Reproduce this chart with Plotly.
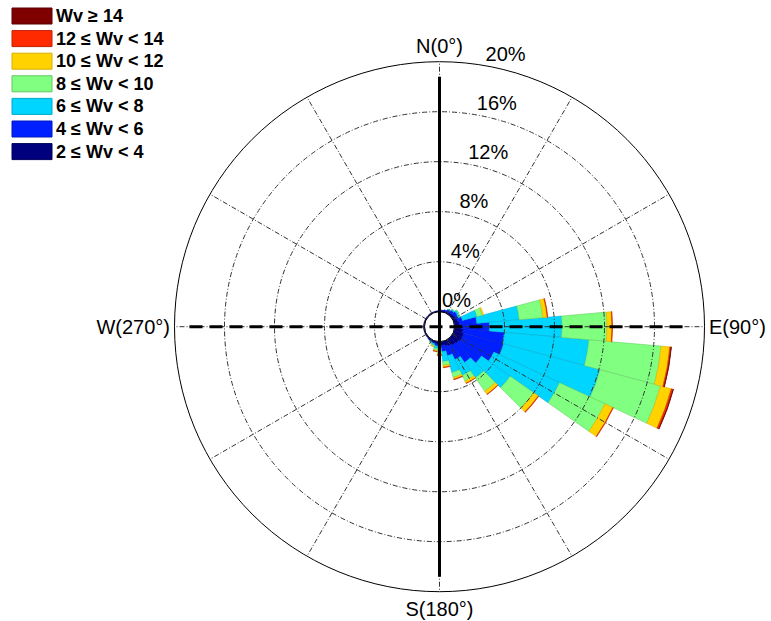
import plotly.graph_objects as go

# ---------------- data ----------------
directions = list(range(0, 360, 10))  # degrees, clockwise from north

bin_labels = ["2 ≤ Wv < 4", "4 ≤ Wv < 6", "6 ≤ Wv < 8", "8 ≤ Wv < 10",
              "10 ≤ Wv < 12", "12 ≤ Wv < 14", "Wv ≥ 14"]
bin_colors = ["#00007F", "#0020FF", "#00D5FF", "#80FF80",
              "#FFD200", "#FF2A00", "#7F0000"]
bin_edges = ["#00005A", "#0018C0", "#00A8CC", "#60C860",
             "#D8B000", "#C02000", "#5A0000"]

# frequency (%) of each speed bin per direction (stacked increments)
wv_2_4 = [0.08, 0.10, 0.12, 0.15, 0.18, 0.22, 0.25, 0.30, 0.40, 0.50, 0.70, 0.80,
          0.80, 0.70, 0.60, 0.50, 0.40, 0.30, 0.25, 0.20, 0.15, 0.12, 0.10, 0.08,
          0.08, 0.08, 0.08, 0.08, 0.08, 0.08, 0.08, 0.08, 0.08, 0.08, 0.08, 0.08]
wv_4_6 = [0.00, 0.04, 0.08, 0.15, 0.23, 0.30, 0.22, 0.40, 1.40, 2.30, 3.30, 3.30,
          2.80, 2.20, 1.70, 1.20, 0.80, 0.50, 0.25, 0.15, 0.07, 0.04, 0.03, 0.00,
          0.00, 0.00, 0.00, 0.00, 0.00, 0.00, 0.00, 0.00, 0.00, 0.00, 0.00, 0.00]
wv_6_8 = [0.00, 0.00, 0.00, 0.05, 0.10, 0.15, 0.12, 1.20, 3.40, 5.80, 6.80, 8.00,
          5.80, 2.80, 1.50, 1.40, 1.40, 0.80, 0.30, 0.20, 0.10, 0.05, 0.00, 0.00,
          0.00, 0.00, 0.00, 0.00, 0.00, 0.00, 0.00, 0.00, 0.00, 0.00, 0.00, 0.00]
wv_8_10 = [0.00, 0.00, 0.00, 0.00, 0.03, 0.05, 0.06, 0.45, 1.90, 3.60, 5.80, 5.00,
           4.00, 2.30, 1.30, 0.50, 0.40, 0.30, 0.15, 0.15, 0.10, 0.05, 0.00, 0.00,
           0.00, 0.00, 0.00, 0.00, 0.00, 0.00, 0.00, 0.00, 0.00, 0.00, 0.00, 0.00]
wv_10_12 = [0.00, 0.00, 0.00, 0.00, 0.00, 0.00, 0.00, 0.10, 0.35, 0.40, 0.70, 0.90,
            0.70, 0.45, 0.30, 0.20, 0.15, 0.15, 0.10, 0.08, 0.05, 0.00, 0.00, 0.00,
            0.00, 0.00, 0.00, 0.00, 0.00, 0.00, 0.00, 0.00, 0.00, 0.00, 0.00, 0.00]
wv_12_14 = [0.00, 0.00, 0.00, 0.00, 0.00, 0.00, 0.00, 0.00, 0.05, 0.05, 0.10, 0.15,
            0.05, 0.05, 0.03, 0.02, 0.05, 0.05, 0.05, 0.02, 0.00, 0.00, 0.00, 0.00,
            0.00, 0.00, 0.00, 0.00, 0.00, 0.00, 0.00, 0.00, 0.00, 0.00, 0.00, 0.00]
wv_14_up = [0.00, 0.00, 0.00, 0.00, 0.00, 0.00, 0.00, 0.00, 0.00, 0.00, 0.03, 0.03,
            0.00, 0.00, 0.00, 0.00, 0.00, 0.00, 0.00, 0.00, 0.00, 0.00, 0.00, 0.00,
            0.00, 0.00, 0.00, 0.00, 0.00, 0.00, 0.00, 0.00, 0.00, 0.00, 0.00, 0.00]
bin_values = [wv_2_4, wv_4_6, wv_6_8, wv_8_10, wv_10_12, wv_12_14, wv_14_up]

radial_ticks = [0, 4, 8, 12, 16, 20]
radial_tick_labels = ["0%", "4%", "8%", "12%", "16%", "20%"]
angle_ticks = list(range(0, 360, 30))
angle_tick_labels = ["N(0°)", "", "", "E(90°)", "", "", "S(180°)", "", "", "W(270°)", "", ""]
r_max = 20
axis_cross_r = 18.8  # extent of the thick N-S / W-E axis lines

# ---------------- figure ----------------
FONT = "Arial, 'Liberation Sans', sans-serif"
W, H = 771, 621
fig = go.Figure()

for vals, lab, col, edge in zip(bin_values, bin_labels, bin_colors, bin_edges):
    fig.add_trace(go.Barpolar(
        r=vals, theta=directions, width=[10] * len(directions), name=lab,
        subplot="polar",
        marker=dict(color=col, line=dict(color=edge, width=0.5)),
        showlegend=False))

# radial percentage labels (in the grid subplot)
fig.add_trace(go.Scatterpolar(
    r=radial_ticks, theta=[10] * len(radial_ticks), text=radial_tick_labels,
    mode="text", textposition="top right", subplot="polar2", cliponaxis=False,
    textfont=dict(family=FONT, size=20, color="black"), showlegend=False,
    hoverinfo="skip"))

# thick axis cross (no-hole subplot so it passes through the centre)
fig.add_trace(go.Scatterpolar(
    r=[axis_cross_r, axis_cross_r], theta=[0, 180], mode="lines", subplot="polar3",
    line=dict(color="black", width=3), showlegend=False, hoverinfo="skip"))
fig.add_trace(go.Scatterpolar(
    r=[axis_cross_r, axis_cross_r], theta=[270, 90], mode="lines", subplot="polar3",
    line=dict(color="black", width=3, dash="13px,7px"), showlegend=False,
    hoverinfo="skip"))

cx, cy, R = 439.5, 326.7, 265.0
dom_x = [(cx - R) / W, (cx + R) / W]
dom_y = [(H - cy - R) / H, (H - cy + R) / H]
hole_px = 15.0
hole = hole_px / R
grid_col = "#333333"
grid_dash = "5px,2px,1px,2px"

fig.update_layout(
    width=W, height=H, margin=dict(l=0, r=0, t=0, b=0),
    paper_bgcolor="white", plot_bgcolor="white", showlegend=False,
    polar=dict(
        domain=dict(x=dom_x, y=dom_y), hole=hole, bgcolor="white", barmode="stack",
        radialaxis=dict(range=[0, r_max], visible=False),
        angularaxis=dict(rotation=90, direction="clockwise", showgrid=False,
                         showline=False, showticklabels=False, ticks="")),
    polar2=dict(
        domain=dict(x=dom_x, y=dom_y), hole=hole, bgcolor="rgba(0,0,0,0)",
        radialaxis=dict(range=[0, r_max], tickvals=radial_ticks[1:-1],
                        showticklabels=False, showline=False, ticks="",
                        gridcolor=grid_col, gridwidth=0.8, griddash=grid_dash),
        angularaxis=dict(rotation=90, direction="clockwise", tickvals=angle_ticks,
                         ticktext=angle_tick_labels, ticks="", showline=True,
                         linecolor="black", linewidth=1,
                         gridcolor=grid_col, gridwidth=0.8, griddash=grid_dash,
                         tickfont=dict(family=FONT, size=20, color="black"))),
    polar3=dict(
        domain=dict(x=dom_x, y=dom_y), hole=0, bgcolor="rgba(0,0,0,0)",
        radialaxis=dict(range=[-hole_px / (R - hole_px) * r_max, r_max], visible=False),
        angularaxis=dict(rotation=90, direction="clockwise", visible=False)),
)

# legend (top-left): swatch + label per speed bin, highest bin first
sw_x0, sw_x1, sw_h, row0, pitch = 12, 52, 16, 8, 22.6
for i, k in enumerate(reversed(range(len(bin_labels)))):
    y0 = row0 + i * pitch
    fig.add_shape(type="rect", xref="paper", yref="paper",
                  x0=sw_x0 / W, x1=sw_x1 / W, y0=1 - (y0 + sw_h) / H, y1=1 - y0 / H,
                  fillcolor=bin_colors[k], line=dict(color=bin_edges[k], width=1))
    fig.add_annotation(xref="paper", yref="paper", x=54 / W, y=1 - (y0 + sw_h / 2) / H,
                       xanchor="left", yanchor="middle", showarrow=False,
                       text="<b>" + bin_labels[k] + "</b>",
                       font=dict(family=FONT, size=18, color="black"))

fig.write_html("out.html", config={"displayModeBar": False},
               post_script="document.body.style.margin='0';"
                           "document.body.style.overflow='hidden';")
